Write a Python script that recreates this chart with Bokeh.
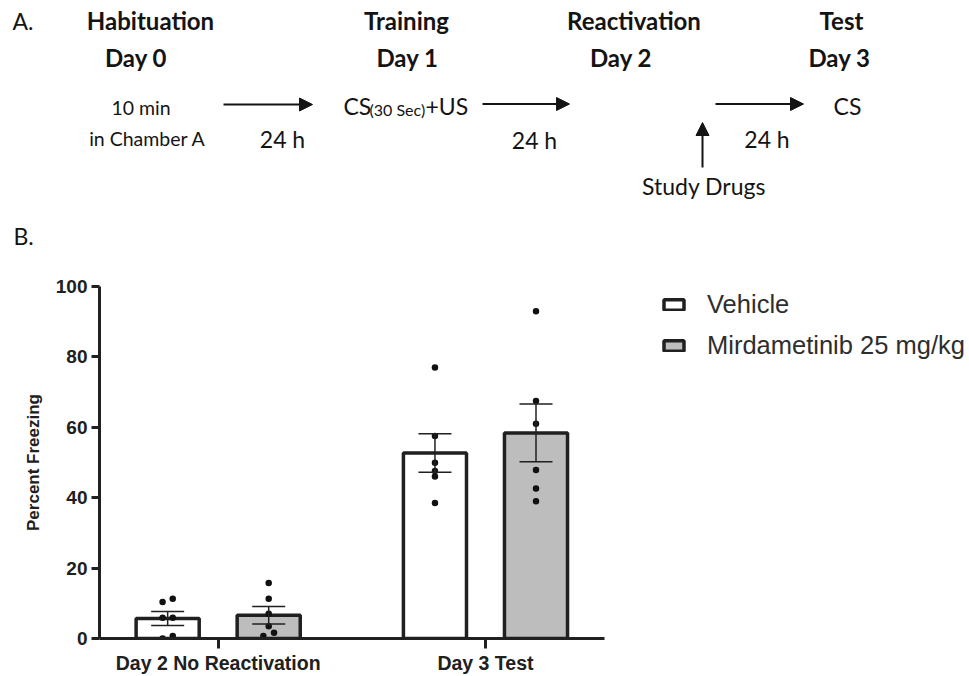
from bokeh.plotting import figure
from bokeh.models import (Range1d, FixedTicker, ColumnDataSource, Whisker, TeeHead,
                          Legend, LegendItem, Arrow, NormalHead)
from bokeh.layouts import column
from bokeh.transform import dodge
from bokeh.core.properties import value
from bokeh.embed import file_html
from bokeh.resources import INLINE

# ---------------- data ----------------
groups = ["Day 2 No Reactivation", "Day 3 Test"]
series = ["Vehicle", "Mirdametinib 25 mg/kg"]

vehicle_mean = [5.7, 52.7]
vehicle_sem = [2.0, 5.5]
mirda_mean = [6.6, 58.4]
mirda_sem = [2.5, 8.2]

vehicle_day2 = [10.4, 11.3, 5.9, 5.9, 0.0, 0.7]
vehicle_day3 = [77.0, 57.5, 49.9, 47.6, 46.0, 38.5]
mirda_day2 = [15.8, 11.3, 7.0, 3.5, 1.6, 0.7]
mirda_day3 = [93.0, 67.5, 61.0, 47.9, 42.6, 39.0]

# small horizontal spread for overlapping dots
vehicle_day2_jit = [-0.019, 0.019, -0.019, 0.019, -0.019, 0.019]
mirda_day2_jit = [0.0, 0.0, 0.0, 0.0, 0.02, -0.02]

y_ticks = [0, 20, 40, 60, 80, 100]

INK = "#202020"
GRAY = "#bdbdbd"
ARIAL = "Liberation Sans"
SCHEMA_FONT = "Lato"
TXT = "#141414"

# ---------------- panel A: protocol timeline ----------------
top = figure(width=969, height=250, x_range=Range1d(0, 969), y_range=Range1d(250, 0),
             x_axis_location=None, y_axis_location=None, toolbar_location=None,
             output_backend="svg", min_border=0, frame_align=False)
top.grid.visible = False
top.outline_line_color = None


def schema_text(xs, ys, texts, size, align="center", bold=False):
    top.text(x=xs, y=ys, text=texts, text_font=value(SCHEMA_FONT),
             text_font_style="bold" if bold else "normal", text_font_size=size,
             text_align=align, text_baseline="middle", text_color=TXT)


schema_text([150, 406, 633.5, 841], [20, 20, 20, 20],
            ["Habituation", "Training", "Reactivation", "Test"], "24px", bold=True)
schema_text([135.5, 407, 620.5, 839], [56.5, 56.5, 56.5, 56.5],
            ["Day 0", "Day 1", "Day 2", "Day 3"], "24px", bold=True)
schema_text([12, 13], [20, 235], ["A.", "B."], "23px", align="left")
schema_text([140.5, 147], [106.5, 138.3], ["10 min", "in Chamber A"], "19.5px")
schema_text([282, 534, 766.5, 847, 703.5], [138.5, 139, 138.3, 105.7, 185],
            ["24 h", "24 h", "24 h", "CS", "Study Drugs"], "23px")
schema_text([343, 425], [105, 105], ["CS", "+US"], "23px", align="left")
schema_text([369], [108.7], ["(30 Sec)"], "16px", align="left")

for xs, ys, xe, ye in [(223, 104, 312, 104), (482, 103.5, 569, 103.5),
                       (715, 103.5, 803, 103.5), (702, 167, 702, 122)]:
    top.add_layout(Arrow(end=NormalHead(size=13, fill_color=TXT, line_color=TXT),
                         x_start=xs, y_start=ys, x_end=xe, y_end=ye,
                         line_width=2, line_color=TXT))

# ---------------- panel B: freezing bar chart ----------------
X_LO, X_HI = 0.556, 2.445          # extent of the category axis
PX_PER_UNIT = 267.3
frame_w = 969 - 99
x_end = X_LO + frame_w / PX_PER_UNIT  # room on the right for the legend

p = figure(width=969, height=426, x_range=Range1d(X_LO, x_end), y_range=Range1d(0, 100),
           toolbar_location=None, output_backend="svg", frame_align=False,
           min_border_left=99, min_border_right=0, min_border_top=36, min_border_bottom=38)
p.grid.visible = False
p.outline_line_color = None

grp = [1, 2]
OFF = 0.189
BAR_W = 0.236

veh_src = ColumnDataSource(dict(g=grp, mean=vehicle_mean,
                                lower=[m - s for m, s in zip(vehicle_mean, vehicle_sem)],
                                upper=[m + s for m, s in zip(vehicle_mean, vehicle_sem)]))
mir_src = ColumnDataSource(dict(g=grp, mean=mirda_mean,
                                lower=[m - s for m, s in zip(mirda_mean, mirda_sem)],
                                upper=[m + s for m, s in zip(mirda_mean, mirda_sem)]))

r_veh = p.vbar(x=dodge("g", -OFF, range=p.x_range), top="mean", bottom=0, width=BAR_W,
               source=veh_src, fill_color="white", line_color=INK, line_width=3.5)
r_mir = p.vbar(x=dodge("g", OFF, range=p.x_range), top="mean", bottom=0, width=BAR_W,
               source=mir_src, fill_color=GRAY, line_color=INK, line_width=3.5)

for src, off in [(veh_src, -OFF), (mir_src, OFF)]:
    w = Whisker(source=src, base=dodge("g", off, range=p.x_range), upper="upper", lower="lower",
                line_color=INK, line_width=1.5, level="annotation",
                upper_head=TeeHead(size=33, line_color=INK, line_width=1.5),
                lower_head=TeeHead(size=33, line_color=INK, line_width=1.5))
    p.add_layout(w)

veh_pts = ColumnDataSource(dict(
    gx=[1 + j for j in vehicle_day2_jit] + [2] * len(vehicle_day3),
    v=vehicle_day2 + vehicle_day3))
mir_pts = ColumnDataSource(dict(
    gx=[1 + j for j in mirda_day2_jit] + [2] * len(mirda_day3),
    v=mirda_day2 + mirda_day3))
p.scatter(x=dodge("gx", -OFF, range=p.x_range), y="v", source=veh_pts, size=6.5,
          fill_color="#111111", line_color=None)
p.scatter(x=dodge("gx", OFF, range=p.x_range), y="v", source=mir_pts, size=6.5,
          fill_color="#111111", line_color=None)

# axes
for ax in (p.xaxis[0], p.yaxis[0]):
    ax.axis_line_width = 3
    ax.axis_line_color = INK
    ax.major_tick_line_width = 3
    ax.major_tick_line_color = INK
    ax.minor_tick_line_color = None
    ax.major_tick_in = 0
    ax.major_label_text_font = ARIAL
    ax.major_label_text_font_style = "bold"
    ax.major_label_text_color = INK

p.yaxis.ticker = FixedTicker(ticks=y_ticks)
p.yaxis.major_tick_out = 8
p.yaxis.major_label_text_font_size = "19px"
p.yaxis.major_label_standoff = 4
p.yaxis.axis_label = "Percent Freezing"
p.yaxis.axis_label_text_font = ARIAL
p.yaxis.axis_label_text_font_style = "bold"
p.yaxis.axis_label_text_font_size = "17px"
p.yaxis.axis_label_text_color = INK
p.yaxis.axis_label_standoff = 10

p.xaxis.ticker = FixedTicker(ticks=grp)
p.xaxis.bounds = (X_LO, X_HI)
p.xaxis.major_label_overrides = {g: name for g, name in zip(grp, groups)}
p.xaxis.major_tick_out = 10
p.xaxis.major_label_text_font_size = "19.5px"
p.xaxis.major_label_standoff = 3

legend = Legend(items=[LegendItem(label=series[0], renderers=[r_veh]),
                       LegendItem(label=series[1], renderers=[r_mir])],
                location=(562, 278), padding=0, margin=0, spacing=12,
                glyph_width=25, glyph_height=13, label_standoff=21,
                label_text_font=ARIAL, label_text_font_size="25.5px", label_text_color="#2e2e2e",
                border_line_color=None, background_fill_color=None)
p.add_layout(legend)

layout = column(top, p, spacing=0)
open("out.html", "w").write(file_html(layout, INLINE))
